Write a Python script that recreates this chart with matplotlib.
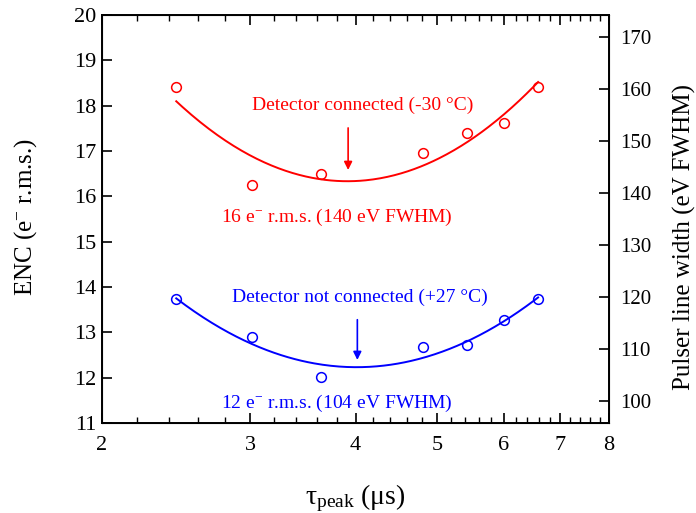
import matplotlib
matplotlib.use("Agg")
import matplotlib.pyplot as plt
from matplotlib.ticker import FixedLocator, NullFormatter, NullLocator
import numpy as np

plt.rcParams['font.family'] = ['Liberation Serif', 'DejaVu Serif']
plt.rcParams['mathtext.fontset'] = 'custom'
plt.rcParams['mathtext.rm'] = 'Liberation Serif'
plt.rcParams['mathtext.it'] = 'Liberation Serif:italic'

# shaping times (us)
tau = [2.45, 3.01, 3.64, 4.81, 5.43, 6.0, 6.59]
# ENC (e- r.m.s.)
enc_cold = [18.42, 16.25, 16.49, 16.96, 17.40, 17.62, 18.42]   # detector connected, -30 C
enc_warm = [13.73, 12.90, 12.02, 12.67, 12.72, 13.27, 13.73]   # detector not connected, +27 C

ev_per_e = 2.355 * 3.7   # ENC -> eV FWHM
xticks = [2, 3, 4, 5, 6, 7, 8]
yticks_right = [100, 110, 120, 130, 140, 150, 160, 170]


def fit_curve(x, y):
    # parabola in log(tau)
    lx = np.log(x)
    p = np.polyfit(lx, y, 2)
    xx = np.linspace(min(x), max(x), 200)
    return xx, np.polyval(p, np.log(xx))


fig = plt.figure(figsize=(6.96, 5.13), dpi=100)
ax = fig.add_axes([0.1466, 0.1754, 0.7284, 0.7954])

for y, c in [(enc_cold, 'red'), (enc_warm, 'blue')]:
    ax.plot(tau, y, 'o', mfc='none', mec=c, ms=7, mew=1.1)
    xx, yy = fit_curve(tau, y)
    ax.plot(xx, yy, '-', color=c, lw=1.4)

ax.set_xscale('log')
ax.set_xlim(2, 8)
ax.set_ylim(11, 20)
ax.xaxis.set_major_locator(FixedLocator(xticks))
ax.xaxis.set_major_formatter(plt.FixedFormatter([str(t) for t in xticks]))
minors = [round(v, 1) for v in np.arange(2.2, 8.0, 0.2) if abs(v - round(v)) > 0.05]
ax.xaxis.set_minor_locator(FixedLocator(minors))
ax.xaxis.set_minor_formatter(NullFormatter())
ax.set_yticks(range(11, 21))
ax.yaxis.set_minor_locator(NullLocator())

ax.tick_params(axis='x', which='major', direction='in', length=7, width=1.2, top=True, labelsize=16, pad=9)
ax.tick_params(axis='x', which='minor', direction='in', length=4, width=1.0, top=True)
ax.tick_params(axis='y', which='major', direction='in', length=7, width=1.2, labelsize=16, pad=4)
for s in ax.spines.values():
    s.set_linewidth(1.4)

ax2 = ax.twinx()
ax2.set_ylim(11 * ev_per_e, 20 * ev_per_e)
ax2.set_yticks(yticks_right)
ax2.yaxis.set_minor_locator(NullLocator())
ax2.tick_params(axis='y', which='major', direction='in', length=7, width=1.2, labelsize=15, pad=8)

ax.set_ylabel('ENC (e$^{-}$ r.m.s.)', fontsize=18)
ax.yaxis.set_label_coords(-0.125, 0.505)
ax2.set_ylabel('Pulser line width (eV FWHM)', fontsize=18)
ax2.yaxis.set_label_coords(1.126, 0.456)
ax.set_xlabel(r'$\mathrm{\tau}_{\mathrm{peak}}$ ($\mathrm{\mu}$s)', fontsize=20, labelpad=20)

ax.annotate('', xy=(3.92, 16.52), xytext=(3.92, 17.57),
            arrowprops=dict(arrowstyle='-|>', color='red', lw=1.2, mutation_scale=12))
ax.text(4.08, 18.01, 'Detector connected (-30 °C)', color='red', fontsize=14, ha='center', va='center')
ax.text(3.8, 15.54, '16 e$^{-}$ r.m.s. (140 eV FWHM)', color='red', fontsize=14, ha='center', va='center')

ax.annotate('', xy=(4.02, 12.33), xytext=(4.02, 13.34),
            arrowprops=dict(arrowstyle='-|>', color='blue', lw=1.2, mutation_scale=12))
ax.text(4.05, 13.78, 'Detector not connected (+27 °C)', color='blue', fontsize=14, ha='center', va='center')
ax.text(3.8, 11.44, '12 e$^{-}$ r.m.s. (104 eV FWHM)', color='blue', fontsize=14, ha='center', va='center')

fig.savefig('out.png', dpi=100)
